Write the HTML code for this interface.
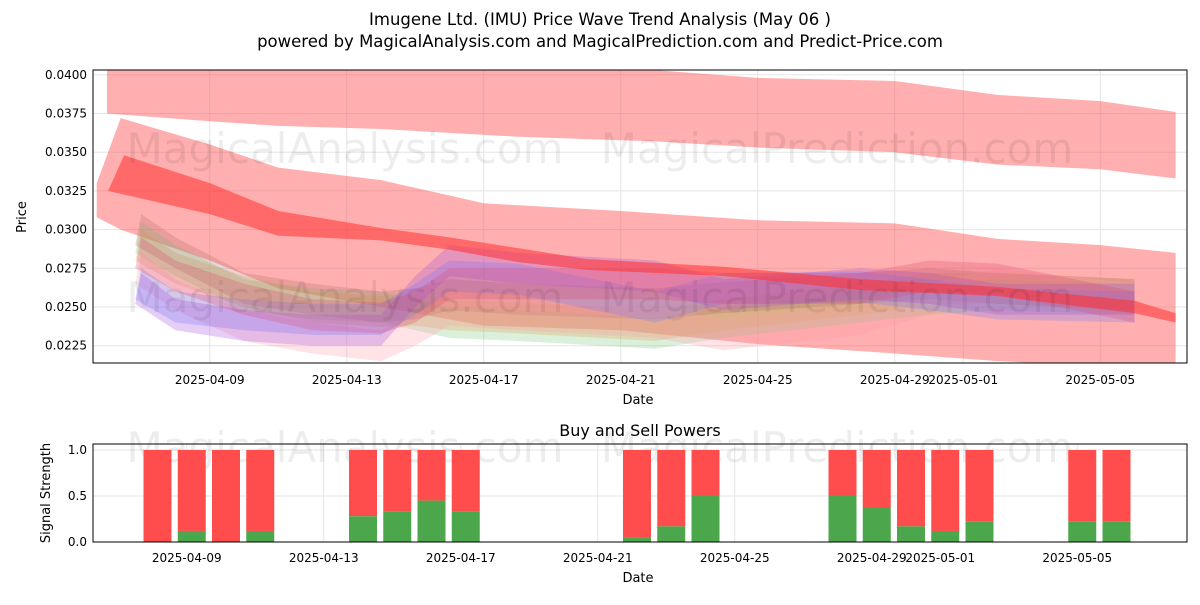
<!DOCTYPE html>
<html><head><meta charset="utf-8"><style>
body{margin:0;background:#fff;font-family:"Liberation Sans","DejaVu Sans",sans-serif}
svg text{font-family:"DejaVu Sans","Liberation Sans",sans-serif}
</style></head><body>
<svg id="c" width="1200" height="600" xmlns="http://www.w3.org/2000/svg">
<text x="600" y="25" text-anchor="middle" font-size="16.5">Imugene Ltd. (IMU) Price Wave Trend Analysis (May 06 )</text>
<text x="600" y="47" text-anchor="middle" font-size="16.5">powered by MagicalAnalysis.com and MagicalPrediction.com and Predict-Price.com</text>
<g id="top"></g>
<g id="bot"></g>
</svg>
<script>
const NS="http://www.w3.org/2000/svg";
// ---------- data ----------
const topTickLabels=["2025-04-09","2025-04-13","2025-04-17","2025-04-21","2025-04-25","2025-04-29","2025-05-01","2025-05-05"];
const topTickDays=[3,7,11,15,19,23,25,29];
const priceTicks=[0.0225,0.0250,0.0275,0.0300,0.0325,0.0350,0.0375,0.0400];
const bandADays=[0,3,5,8,12,16,19,23,26,29,31.2];
const bandAUp=[0.0410,0.0410,0.0410,0.0410,0.0408,0.0403,0.0398,0.0396,0.0387,0.0383,0.0376];
const bandALo=[0.0375,0.0370,0.0367,0.0365,0.0360,0.0357,0.0353,0.0350,0.0342,0.0339,0.0333];
const bandBDays=[-0.3,0.4,3,5,8,11,15,19,23,26,29,31.2];
const bandBUp=[0.0330,0.0372,0.0355,0.0340,0.0332,0.0317,0.0312,0.0306,0.0304,0.0294,0.0290,0.0285];
const bandBLo=[0.0308,0.0300,0.0280,0.0262,0.0250,0.0238,0.0235,0.0226,0.0220,0.0215,0.0212,0.0210];
const bandCDays=[0.5,3,5,8,10,12,14,18,22,26,30,31.2];
const bandCUp=[0.0348,0.0330,0.0312,0.0301,0.0295,0.0288,0.0281,0.0276,0.0268,0.0263,0.0254,0.0246];
const bandCLo=[0.0325,0.0310,0.0296,0.0293,0.0287,0.0279,0.0274,0.0270,0.0261,0.0257,0.0246,0.0240];
const waveDays=[1,2,4,6,8,9,10,12,16,18,22,24,26,30];
const waveBlue=[0.0265,0.0250,0.0245,0.0242,0.0242,0.0255,0.0270,0.0268,0.0250,0.0262,0.0263,0.0258,0.0252,0.0250];
const wavePurple=[0.0262,0.0245,0.0238,0.0235,0.0235,0.0260,0.0280,0.0275,0.0270,0.0258,0.0265,0.0262,0.0255,0.0255];
const waveGreen=[0.0295,0.0280,0.0258,0.0252,0.0250,0.0245,0.0240,0.0238,0.0233,0.0240,0.0250,0.0255,0.0258,0.0255];
const waveOrange=[0.0290,0.0275,0.0260,0.0250,0.0247,0.0248,0.0245,0.0243,0.0238,0.0245,0.0255,0.0262,0.0262,0.0258];
const wavePink=[0.0275,0.0258,0.0238,0.0230,0.0225,0.0235,0.0248,0.0245,0.0240,0.0232,0.0242,0.0255,0.0265,0.0255];
const waveBrown=[0.0300,0.0285,0.0262,0.0255,0.0250,0.0252,0.0258,0.0255,0.0252,0.0256,0.0262,0.0265,0.0262,0.0258];
const waveRed=[0.0285,0.0270,0.0255,0.0245,0.0243,0.0250,0.0265,0.0265,0.0265,0.0262,0.0262,0.0270,0.0268,0.0250];
const barDays=[2,3,4,5,8,9,10,11,16,17,18,22,23,24,25,26,29,30];
const buyVals=[0,0.12,0,0.12,0.28,0.33,0.45,0.33,0.05,0.17,0.5,0.5,0.38,0.17,0.12,0.22,0.22,0.22];
const botTickLabels=topTickLabels;
const sigTicks=[0,0.5,1.0];
// ---------- axes ----------
const X0=93,X1=1187,Y0=70,Y1=363;
const px=d=>107+d*34.25;
const py=v=>307-(v-0.025)/0.0025*38.7;
const BX0=93,BX1=1187,BY0=444,BY1=542;
const bpx=d=>84+d*34.25;
const bpy=v=>542-v*92;
const svg=document.getElementById('c'),top_=document.getElementById('top'),bot=document.getElementById('bot');
function mk(t,a,p,txt){const e=document.createElementNS(NS,t);for(const k in a)e.setAttribute(k,a[k]);if(txt!=null)e.textContent=txt;p.appendChild(e);return e;}
const defs=mk('defs',{},svg);const cp=mk('clipPath',{id:'cl'},defs);mk('rect',{x:X0,y:Y0,width:X1-X0,height:Y1-Y0},cp);
priceTicks.forEach(v=>{const l=mk('line',{x1:X0,x2:X1,y1:py(v),y2:py(v),stroke:'#e5e5e5'},top_);

const t=mk('text',{x:X0-6,y:py(v)+4,'text-anchor':'end','font-size':12},top_,v.toFixed(4));
});
topTickDays.forEach((d,i)=>{const l=mk('line',{x1:px(d),x2:px(d),y1:Y0,y2:Y1,stroke:'#e5e5e5'},top_);

const t=mk('text',{x:px(d),y:Y1+21,'text-anchor':'middle','font-size':12},top_,topTickLabels[i]);
});
const g=mk('g',{'clip-path':'url(#cl)'},top_);
function band(days,up,lo,col,op,name,skew){let pts=days.map((d,i)=>px(d)+','+py(up[i]));for(let i=days.length-1;i>=0;i--)pts.push((px(days[i])-(i==0&&skew?skew:0))+','+py(lo[i]));
const p=mk('polygon',{points:pts.join(' '),fill:col,'fill-opacity':op},g);
}
band(bandADays,bandAUp,bandALo,'#ff4d4d',0.45,'upper-wave-band');
band(bandBDays,bandBUp,bandBLo,'#ff4d4d',0.45,'main-wave-band');
const waves=[[waveGreen,'#7fc97f'],[waveOrange,'#e0a050'],[waveBrown,'#b0706a'],[wavePink,'#ff9aa8'],[waveBlue,'#6a7fff'],[wavePurple,'#a050e0'],[waveRed,'#e04a70']];
waves.forEach(([arr,col],k)=>{band(waveDays,arr.map(v=>v+0.0010),arr.map(v=>v-0.0010),col,0.28,'wave-band-'+k,6);});
band(bandCDays,bandCUp,bandCLo,'#ff3030',0.55,'trend-band',16);
mk('text',{x:345,y:163,'text-anchor':'middle','font-size':42,fill:'#000','fill-opacity':0.07},top_,'MagicalAnalysis.com');
mk('text',{x:837,y:163,'text-anchor':'middle','font-size':42,fill:'#000','fill-opacity':0.07},top_,'MagicalPrediction.com');
mk('text',{x:345,y:312,'text-anchor':'middle','font-size':42,fill:'#000','fill-opacity':0.07},top_,'MagicalAnalysis.com');
mk('text',{x:837,y:312,'text-anchor':'middle','font-size':42,fill:'#000','fill-opacity':0.07},top_,'MagicalPrediction.com');
mk('rect',{x:X0,y:Y0,width:X1-X0,height:Y1-Y0,fill:'none',stroke:'#000','stroke-width':1},top_);
mk('text',{x:638,y:404,'text-anchor':'middle','font-size':13},top_,'Date');
mk('text',{x:26,y:217,'text-anchor':'middle','font-size':13,transform:'rotate(-90 26 217)'},top_,'Price');
mk('text',{x:640,y:436,'text-anchor':'middle','font-size':16},bot,'Buy and Sell Powers');
sigTicks.forEach(v=>{const l=mk('line',{x1:BX0,x2:BX1,y1:bpy(v),y2:bpy(v),stroke:'#e5e5e5'},bot);

const t=mk('text',{x:BX0-6,y:bpy(v)+4,'text-anchor':'end','font-size':12},bot,v.toFixed(1));
});
topTickDays.forEach((d,i)=>{const l=mk('line',{x1:bpx(d),x2:bpx(d),y1:BY0,y2:BY1,stroke:'#e5e5e5'},bot);

const t=mk('text',{x:bpx(d),y:BY1+20,'text-anchor':'middle','font-size':12},bot,botTickLabels[i]);
});
mk('text',{x:345,y:462,'text-anchor':'middle','font-size':42,fill:'#000','fill-opacity':0.07},bot,'MagicalAnalysis.com');
mk('text',{x:837,y:462,'text-anchor':'middle','font-size':42,fill:'#000','fill-opacity':0.07},bot,'MagicalPrediction.com');
barDays.forEach((d,i)=>{const x=bpx(d)+5-14,b=buyVals[i];
const s=mk('rect',{x:x,y:bpy(1),width:28,height:bpy(b)-bpy(1),fill:'#ff4d4d'},bot);

const r=mk('rect',{x:x,y:bpy(b),width:28,height:bpy(0)-bpy(b),fill:'#4ca64c'},bot);
});
mk('rect',{x:BX0,y:BY0,width:BX1-BX0,height:BY1-BY0,fill:'none',stroke:'#000'},bot);
mk('text',{x:638,y:582,'text-anchor':'middle','font-size':13},bot,'Date');
mk('text',{x:50,y:493,'text-anchor':'middle','font-size':13,transform:'rotate(-90 50 493)'},bot,'Signal Strength');
</script>
</body></html>
